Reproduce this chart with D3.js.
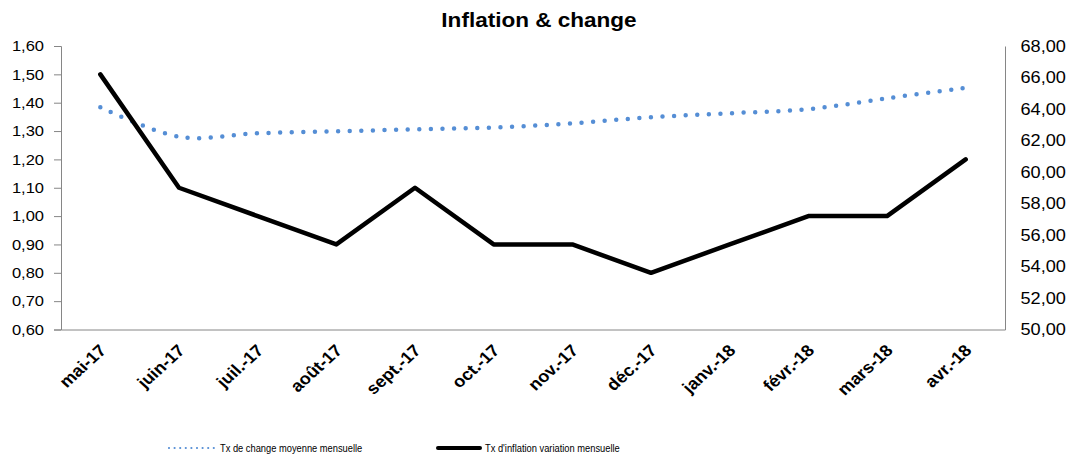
<!DOCTYPE html>
<html>
<head>
<meta charset="utf-8">
<script src="https://cdn.jsdelivr.net/npm/d3@7/dist/d3.min.js"></script>
<style>
  html, body { margin: 0; padding: 0; background: #fff; }
  svg { display: block; font-family: "Liberation Sans", Arial, sans-serif; }
</style>
</head>
<body>
<svg id="chart" width="1073" height="459"></svg>
<script>
const categories = ["mai-17","juin-17","juil.-17","août-17","sept.-17","oct.-17","nov.-17","déc.-17","janv.-18","févr.-18","mars-18","avr.-18"];
const inflation = [1.5, 1.1, 1.0, 0.9, 1.1, 0.9, 0.9, 0.8, 0.9, 1.0, 1.0, 1.2];
const change = [64.11, 62.24, 62.46, 62.58, 62.71, 62.82, 63.09, 63.48, 63.73, 63.99, 64.68, 65.35];
const leftTicks = [0.6, 0.7, 0.8, 0.9, 1.0, 1.1, 1.2, 1.3, 1.4, 1.5, 1.6];
const rightTicks = [50, 52, 54, 56, 58, 60, 62, 64, 66, 68];
const seriesNames = ["Tx de change moyenne mensuelle", "Tx d'inflation variation mensuelle"];

const svg = d3.select("#chart");
const L = 61, R = 1005, T = 46, B = 329.5;
const SX = 1.1; // horizontal stretch of text in the reference
const NX = 0.81; // legend text is narrow
const axisColor = "#868686";
const blue = "#558ED5";
const fmt = d => d3.format(".2f")(d).replace(".", ",");

const x = d3.scaleBand().domain(categories).range([L, R]);
const yL = d3.scaleLinear().domain([0.6, 1.6]).range([B, T]);
const yR = d3.scaleLinear().domain([50, 68]).range([B, T]);
const cx = c => x(c) + x.bandwidth() / 2;

// Title
svg.append("text").attr("transform", `translate(539,27) scale(${SX},1)`)
  .attr("text-anchor", "middle")
  .attr("font-size", 20.5).attr("font-weight", "bold").attr("fill", "#000")
  .text("Inflation & change");

// Left axis
const gL = svg.append("g").attr("transform", `translate(${L},0)`)
  .call(d3.axisLeft(yL).tickValues(leftTicks).tickFormat(fmt).tickSize(7).tickPadding(10));
gL.select(".domain").attr("stroke", axisColor);
gL.selectAll(".tick line").attr("stroke", axisColor);
gL.selectAll(".tick text").attr("font-size", 15).attr("fill", "#000")
  .attr("font-family", "Liberation Sans, Arial, sans-serif")
  .attr("x", -17 / SX).attr("transform", `scale(${SX},1)`);

// Right axis
const gR = svg.append("g").attr("transform", `translate(${R},0)`)
  .call(d3.axisRight(yR).tickValues(rightTicks).tickFormat(fmt).tickSize(0).tickPadding(15));
gR.select(".domain").attr("stroke", axisColor);
gR.selectAll(".tick text").attr("font-size", 16.5).attr("fill", "#000")
  .attr("font-family", "Liberation Sans, Arial, sans-serif")
  .attr("x", 15.5 / SX).attr("transform", `scale(${SX},1)`);

// Bottom axis
const gB = svg.append("g").attr("transform", `translate(0,${B})`)
  .call(d3.axisBottom(x).tickSize(0).tickSizeOuter(0).tickFormat(""));
gB.select(".domain").attr("stroke", axisColor);
gB.selectAll(".tick").remove();

svg.append("g").selectAll("text").data(categories).join("text")
  .attr("transform", d => `translate(${cx(d) + 7},${B + 22}) scale(${SX},1) rotate(-45)`)
  .attr("text-anchor", "end")
  .attr("font-size", 16.5).attr("font-weight", "bold").attr("fill", "#000")
  .text(d => d);

// Exchange rate (dotted, smoothed, right axis)
const lineR = d3.line().x((d, i) => cx(categories[i])).y(d => yR(d)).curve(d3.curveCatmullRom.alpha(0));
svg.append("path").datum(change).attr("d", lineR)
  .attr("fill", "none").attr("stroke", blue).attr("stroke-width", 4.5)
  .attr("stroke-linecap", "round").attr("stroke-dasharray", "0 11.6");

// Inflation (solid black, left axis)
const lineL = d3.line().x((d, i) => cx(categories[i])).y(d => yL(d));
svg.append("path").datum(inflation).attr("d", lineL)
  .attr("fill", "none").attr("stroke", "#000").attr("stroke-width", 4.5)
  .attr("stroke-linejoin", "round").attr("stroke-linecap", "round");

// Legend
const lg = svg.append("g");
lg.append("line").attr("x1", 169).attr("x2", 216).attr("y1", 448).attr("y2", 448)
  .attr("stroke", blue).attr("stroke-width", 2.2).attr("stroke-linecap", "round")
  .attr("stroke-dasharray", "0 5.6");
lg.append("text").attr("transform", `translate(220,452) scale(${NX},1)`)
  .attr("font-size", 11.5).attr("fill", "#000")
  .text(seriesNames[0]);
lg.append("line").attr("x1", 438).attr("x2", 480).attr("y1", 448).attr("y2", 448)
  .attr("stroke", "#000").attr("stroke-width", 4).attr("stroke-linecap", "round");
lg.append("text").attr("transform", `translate(485,452) scale(${NX},1)`)
  .attr("font-size", 11.5).attr("fill", "#000")
  .text(seriesNames[1]);
</script>
</body>
</html>
